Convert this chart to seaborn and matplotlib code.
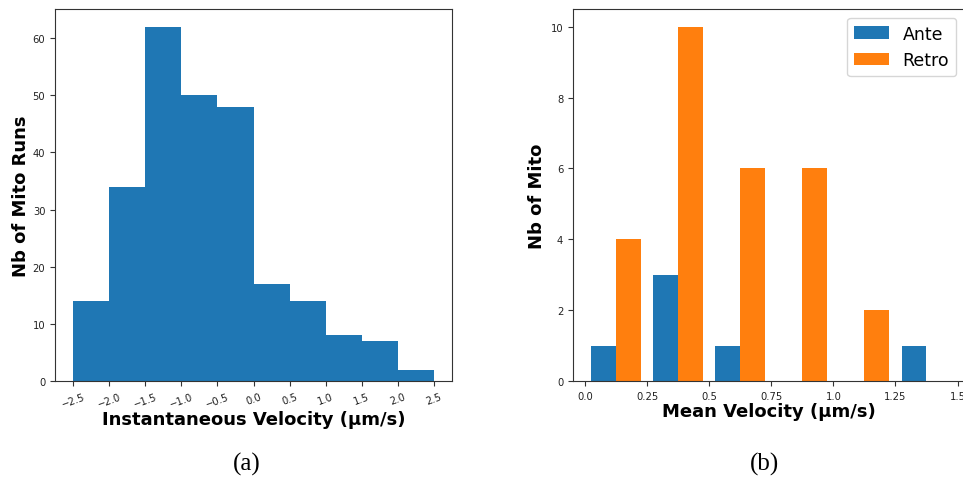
import matplotlib
matplotlib.use('Agg')
import matplotlib.pyplot as plt
import seaborn as sns

# (a) instantaneous velocity histogram
inst_edges = [-2.5, -2.0, -1.5, -1.0, -0.5, 0.0, 0.5, 1.0, 1.5, 2.0, 2.5]
inst_counts = [14, 34, 62, 50, 48, 17, 14, 8, 7, 2]

# (b) mean velocity histogram, ante vs retro
mean_edges = [0.0, 0.25, 0.5, 0.75, 1.0, 1.25, 1.5]
ante_counts = [1, 3, 1, 0, 0, 1]
retro_counts = [4, 10, 6, 6, 2, 0]
series_names = ['Ante', 'Retro']

inst_centers = [(a + b) / 2 for a, b in zip(inst_edges[:-1], inst_edges[1:])]
mean_centers = [(a + b) / 2 for a, b in zip(mean_edges[:-1], mean_edges[1:])]

fig = plt.figure(figsize=(9.63, 4.81), dpi=100)
ax1 = fig.add_axes([55 / 963, 1 - 382 / 481, 397 / 963, 372 / 481])
ax2 = fig.add_axes([573 / 963, 1 - 382 / 481, 392 / 963, 372 / 481])

sns.histplot(x=inst_centers, weights=inst_counts, bins=inst_edges, ax=ax1,
             color='#1f77b4', alpha=1, linewidth=0, element='bars')
ax1.set_xticks(inst_edges)
ax1.set_xticklabels([f'{v:.1f}'.replace('-', '\u2212') for v in inst_edges],
                    rotation=20, fontsize=7.2)
ax1.tick_params(axis='y', labelsize=7.2)
ax1.set_xlabel('Instantaneous Velocity (µm/s)', fontsize=13, fontweight='bold', labelpad=1)
ax1.set_ylabel('Nb of Mito Runs', fontsize=13, fontweight='bold', labelpad=2)

ax2.hist([mean_centers, mean_centers], bins=mean_edges,
         weights=[ante_counts, retro_counts],
         color=['#1f77b4', '#ff7f0e'], label=series_names)
ax2.set_xticks([0.0, 0.25, 0.5, 0.75, 1.0, 1.25, 1.5])
ax2.set_xticklabels(['0.0', '0.25', '0.5', '0.75', '1.0', '1.25', '1.5'])
ax2.tick_params(labelsize=7.2)
ax2.set_xlim(-0.048, 1.53)
ax2.set_xlabel('Mean Velocity (µm/s)', fontsize=13, fontweight='bold', labelpad=1)
ax2.set_ylabel('Nb of Mito', fontsize=13, fontweight='bold', labelpad=3)
ax2.legend(loc='upper right', fontsize=12.5)

for ax in (ax1, ax2):
    for s in ax.spines.values():
        s.set_color('#333333')
        s.set_linewidth(0.8)
    ax.tick_params(color='#333333', labelcolor='#222222')

fig.text(247 / 963, 1 - 464 / 481, '(a)', ha='center', va='center',
         family='Liberation Serif', fontsize=18)
fig.text(764 / 963, 1 - 464 / 481, '(b)', ha='center', va='center',
         family='Liberation Serif', fontsize=18)

fig.savefig('out.png', dpi=100)
